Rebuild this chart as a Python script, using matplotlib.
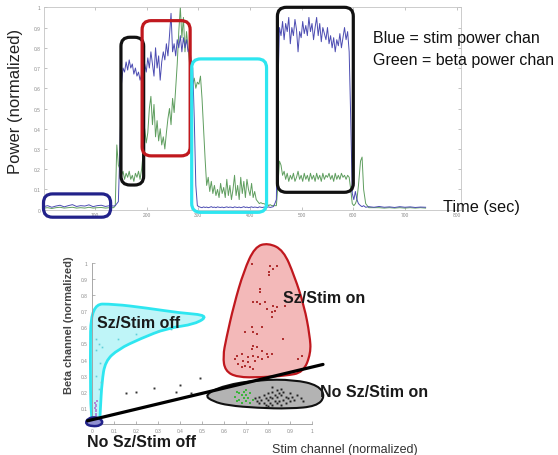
import matplotlib
matplotlib.use("Agg")
import matplotlib.pyplot as plt
from matplotlib.patches import FancyBboxPatch, PathPatch
from matplotlib.path import Path

plt.rcParams['font.family'] = ['Liberation Sans', 'DejaVu Sans']

# ---------------- top panel data (time in s, normalized power) ----------------
time_pre = [0, 8, 16, 24, 32, 40, 48, 56, 64, 72, 80, 88, 96, 104, 112, 120, 128, 136]
stim_pre = [0.015, 0.020, 0.012, 0.018, 0.022, 0.014, 0.020, 0.025, 0.016, 0.020,
            0.018, 0.024, 0.015, 0.020, 0.022, 0.016, 0.020, 0.018]
beta_pre = [0.008, 0.010, 0.006, 0.010, 0.012, 0.008, 0.010, 0.012, 0.008, 0.010,
            0.008, 0.012, 0.008, 0.010, 0.011, 0.008, 0.010, 0.010]

time_sz = [139, 142, 145, 148, 151, 154, 157, 160, 163, 166,
           169, 172, 175, 178, 181, 184, 187, 190, 193, 196,
           199, 202, 205, 208, 211, 214, 217, 220, 223, 226,
           229, 232, 235, 238, 241, 244, 247, 250, 253, 256,
           259, 262, 265, 268, 271, 274, 277, 280, 283, 286,
           289, 292, 295, 298]
stim_sz = [0.02, 0.03, 0.04, 0.30, 0.62, 0.70, 0.68, 0.73, 0.69, 0.74,
           0.70, 0.72, 0.67, 0.70, 0.66, 0.68, 0.64, 0.67, 0.62, 0.72,
           0.68, 0.75, 0.70, 0.78, 0.72, 0.66, 0.80, 0.70, 0.76, 0.64,
           0.73, 0.78, 0.74, 0.82, 0.76, 0.86, 0.97, 0.78, 0.82, 0.76,
           0.84, 0.80, 0.86, 0.78, 0.85, 0.80, 0.84, 0.78, 0.80, 0.74,
           0.70, 0.45, 0.12, 0.02]
beta_sz = [0.02, 0.32, 0.22, 0.20, 0.17, 0.19, 0.15, 0.18, 0.16, 0.19,
           0.15, 0.17, 0.14, 0.18, 0.16, 0.19, 0.15, 0.20, 0.28, 0.40,
           0.33, 0.38, 0.50, 0.56, 0.42, 0.52, 0.36, 0.44, 0.34, 0.40,
           0.32, 0.36, 0.30, 0.38, 0.45, 0.50, 0.42, 0.55, 0.48, 0.60,
           0.72, 0.88, 1.00, 0.85, 0.95, 0.78, 0.88, 0.80, 0.72, 0.66,
           0.62, 0.65, 0.60, 0.63]

time_off = [301, 304, 307, 310, 313, 316, 319, 322, 325, 328,
            331, 334, 337, 340, 343, 346, 349, 352, 355, 358,
            361, 364, 367, 370, 373, 376, 379, 382, 385, 388,
            391, 394, 397, 400, 403, 406, 409, 412, 415, 418,
            421, 424, 427, 430, 433, 436, 439, 442, 445, 448]
stim_off = [0.015, 0.012, 0.010, 0.014, 0.011, 0.013, 0.010, 0.012, 0.015, 0.011,
            0.013, 0.010, 0.014, 0.012, 0.011, 0.013, 0.010, 0.012, 0.014, 0.011,
            0.013, 0.012, 0.010, 0.014, 0.012, 0.011, 0.013, 0.010, 0.012, 0.015,
            0.011, 0.013, 0.010, 0.012, 0.014, 0.011, 0.013, 0.012, 0.010, 0.014,
            0.012, 0.011, 0.013, 0.010, 0.012, 0.014, 0.011, 0.013, 0.015, 0.030]
beta_off = [0.62, 0.66, 0.55, 0.40, 0.25, 0.12, 0.16, 0.09, 0.14, 0.08,
            0.12, 0.07, 0.10, 0.06, 0.13, 0.08, 0.11, 0.06, 0.15, 0.07,
            0.12, 0.05, 0.10, 0.17, 0.07, 0.12, 0.05, 0.16, 0.08, 0.14,
            0.06, 0.15, 0.10, 0.07, 0.13, 0.06, 0.09, 0.05, 0.04, 0.03,
            0.035, 0.03, 0.03, 0.025, 0.03, 0.02, 0.025, 0.02, 0.02, 0.02]

time_on = [451, 454, 457, 460, 463, 466, 469, 472, 475, 478,
           481, 484, 487, 490, 493, 496, 499, 502, 505, 508,
           511, 514, 517, 520, 523, 526, 529, 532, 535, 538,
           541, 544, 547, 550, 553, 556, 559, 562, 565, 568,
           571, 574, 577, 580, 583, 586, 589, 592, 595, 598]
stim_on = [0.05, 0.60, 0.90, 0.86, 0.93, 0.84, 0.92, 0.88, 0.95, 0.82,
           0.90, 0.86, 0.94, 0.89, 0.78, 0.88, 0.85, 0.93, 0.87, 0.91,
           0.86, 0.95, 0.88, 0.92, 0.84, 0.90, 0.95, 0.86, 0.92, 0.83,
           0.90, 0.87, 0.84, 0.90, 0.82, 0.86, 0.80, 0.85, 0.78, 0.84,
           0.81, 0.87, 0.80, 0.85, 0.90, 0.84, 0.88, 0.78, 0.45, 0.08]
beta_on = [0.02, 0.12, 0.24, 0.22, 0.17, 0.19, 0.15, 0.18, 0.14, 0.17,
           0.15, 0.18, 0.14, 0.16, 0.19, 0.15, 0.17, 0.14, 0.18, 0.15,
           0.17, 0.14, 0.18, 0.15, 0.17, 0.14, 0.18, 0.15, 0.17, 0.14,
           0.18, 0.15, 0.17, 0.16, 0.18, 0.15, 0.17, 0.14, 0.18, 0.15,
           0.17, 0.15, 0.18, 0.16, 0.17, 0.15, 0.17, 0.16, 0.10, 0.03]

time_post = [601, 604, 607, 610, 614, 617, 620, 624, 630, 640,
             650, 660, 670, 680, 690, 700, 710, 720, 730, 740]
stim_post = [0.05, 0.09, 0.05, 0.03, 0.02, 0.015, 0.02, 0.012, 0.015, 0.012,
             0.016, 0.012, 0.014, 0.011, 0.015, 0.012, 0.014, 0.011, 0.013, 0.012]
beta_post = [0.02, 0.03, 0.05, 0.12, 0.24, 0.26, 0.10, 0.03, 0.01, 0.01,
             0.01, 0.008, 0.01, 0.008, 0.01, 0.008, 0.01, 0.008, 0.01, 0.008]

time_s = time_pre + time_sz + time_off + time_on + time_post
stim_power = stim_pre + stim_sz + stim_off + stim_on + stim_post
beta_power = beta_pre + beta_sz + beta_off + beta_on + beta_post

top_xticks = [100, 200, 300, 400, 500, 600, 700, 800]
top_yticks = [0, 0.1, 0.2, 0.3, 0.4, 0.5, 0.6, 0.7, 0.8, 0.9, 1]
top_yticklabels = ['0', '0.1', '0.2', '0.3', '0.4', '0.5', '0.6', '0.7', '0.8', '0.9', '1']

# highlight boxes (time range, power range, colour)
box_t0 = [0, 150, 191, 287, 453]
box_t1 = [130, 194, 284, 432, 600]
box_v0 = [-0.037, 0.122, 0.266, -0.013, 0.086]
box_v1 = [0.078, 0.852, 0.934, 0.745, 1.0]
box_colors = ['#22228a', '#111111', '#c0181e', '#2ee6f0', '#111111']

# ---------------- bottom panel data ----------------
red_x = [0.726, 0.809, 0.839, 0.805, 0.805, 0.764, 0.764, 0.733, 0.748, 0.764,
         0.786, 0.794, 0.824, 0.839, 0.832, 0.817, 0.817, 0.771, 0.726, 0.733,
         0.748, 0.695, 0.870, 0.733, 0.748, 0.726, 0.771, 0.794, 0.658, 0.680,
         0.711, 0.733, 0.756, 0.802, 0.817, 0.650, 0.688, 0.711, 0.741, 0.771,
         0.680, 0.695, 0.718, 0.733, 0.953, 0.938, 0.877, 0.868, 0.823, 0.665]
red_y = [0.994, 0.983, 0.983, 0.944, 0.925, 0.838, 0.817, 0.756, 0.756, 0.745,
         0.756, 0.714, 0.735, 0.724, 0.703, 0.693, 0.662, 0.600, 0.600, 0.569,
         0.559, 0.569, 0.528, 0.486, 0.476, 0.465, 0.455, 0.435, 0.424, 0.435,
         0.414, 0.424, 0.414, 0.414, 0.435, 0.404, 0.393, 0.383, 0.393, 0.404,
         0.352, 0.362, 0.352, 0.342, 0.424, 0.404, 0.733, 0.528, 0.963, 0.372]

gray_x = [0.74, 0.75, 0.76, 0.76, 0.77, 0.78, 0.78, 0.79, 0.79, 0.80,
          0.80, 0.80, 0.81, 0.81, 0.82, 0.82, 0.82, 0.83, 0.83, 0.84,
          0.84, 0.84, 0.85, 0.85, 0.86, 0.86, 0.87, 0.87, 0.88, 0.88,
          0.89, 0.90, 0.90, 0.91, 0.92, 0.93, 0.95, 0.96, 0.82, 0.86]
gray_y = [0.16, 0.14, 0.17, 0.13, 0.15, 0.18, 0.13, 0.16, 0.12, 0.19,
          0.15, 0.11, 0.17, 0.13, 0.20, 0.16, 0.12, 0.18, 0.14, 0.21,
          0.17, 0.13, 0.19, 0.14, 0.18, 0.12, 0.20, 0.15, 0.17, 0.13,
          0.16, 0.19, 0.14, 0.17, 0.15, 0.18, 0.16, 0.14, 0.23, 0.22]

green_x = [0.65, 0.66, 0.67, 0.67, 0.68, 0.68, 0.69, 0.69, 0.70, 0.70,
           0.71, 0.72, 0.72, 0.73, 0.66, 0.70]
green_y = [0.17, 0.14, 0.19, 0.15, 0.18, 0.13, 0.16, 0.20, 0.14, 0.18,
           0.16, 0.19, 0.13, 0.15, 0.20, 0.21]

black_x = [0.155, 0.20, 0.28, 0.40, 0.49, 0.38, 0.45]
black_y = [0.19, 0.20, 0.225, 0.24, 0.285, 0.20, 0.19]

cyan_x = [0.02, 0.03, 0.045, 0.02, 0.035, 0.02, 0.03, 0.04, 0.12, 0.20, 0.30, 0.36, 0.08, 0.25]
cyan_y = [0.53, 0.50, 0.48, 0.46, 0.38, 0.30, 0.22, 0.26, 0.53, 0.56, 0.58, 0.59, 0.61, 0.62]

purple_x = [0.012, 0.016, 0.020, 0.014, 0.018, 0.022, 0.016, 0.020, 0.018, 0.015]
purple_y = [0.04, 0.06, 0.08, 0.10, 0.12, 0.14, 0.05, 0.09, 0.11, 0.13]

# decision line
line_x = [-0.02, 1.05]
line_y = [0.02, 0.37]

# hand-drawn region outlines (control points)
cyan_shape_x = [-0.005, -0.008, -0.005, 0.10, 0.25, 0.40, 0.53, 0.47, 0.34, 0.22, 0.12, 0.06, 0.045, 0.038, 0.035, 0.015]
cyan_shape_y = [0.02, 0.40, 0.745, 0.745, 0.72, 0.69, 0.675, 0.62, 0.595, 0.53, 0.465, 0.39, 0.26, 0.09, 0.01, 0.0]
red_shape_x = [0.80, 0.87, 0.92, 0.965, 0.99, 0.995, 0.96, 0.88, 0.77, 0.66, 0.605, 0.595, 0.61, 0.645, 0.69, 0.74]
red_shape_y = [1.125, 1.08, 0.92, 0.73, 0.55, 0.44, 0.32, 0.30, 0.29, 0.29, 0.33, 0.42, 0.53, 0.74, 0.95, 1.10]
gray_shape_x = [0.51, 0.60, 0.76, 0.92, 1.03, 1.06, 1.02, 0.90, 0.75, 0.62, 0.55]
gray_shape_y = [0.18, 0.24, 0.275, 0.275, 0.24, 0.17, 0.11, 0.095, 0.10, 0.115, 0.14]
navy_shape_x = [-0.03, -0.02, 0.02, 0.05, 0.04, 0.0]
navy_shape_y = [0.0, 0.035, 0.045, 0.02, -0.01, -0.015]

bot_ticks = [0, 0.1, 0.2, 0.3, 0.4, 0.5, 0.6, 0.7, 0.8, 0.9, 1]
bot_ticklabels = ['0', '0.1', '0.2', '0.3', '0.4', '0.5', '0.6', '0.7', '0.8', '0.9', '1']


def smooth_closed(xs, ys):
    pts = list(zip(xs, ys))
    n = len(pts)
    mids = [((pts[i][0] + pts[(i + 1) % n][0]) / 2, (pts[i][1] + pts[(i + 1) % n][1]) / 2) for i in range(n)]
    verts = [mids[-1]]
    codes = [Path.MOVETO]
    for i in range(n):
        verts += [pts[i], mids[i]]
        codes += [Path.CURVE3, Path.CURVE3]
    verts.append(mids[-1])
    codes.append(Path.CLOSEPOLY)
    return Path(verts, codes)


W, H = 558, 456
fig = plt.figure(figsize=(W / 100, H / 100), dpi=100)

# ---------------- top axes ----------------
ax1 = fig.add_axes([43.5 / W, 1 - 210.7 / H, (460.7 - 43.5) / W, 202.4 / H])
ax1.plot(time_s, beta_power, color='#5f9e5f', lw=0.7, zorder=2)
ax1.plot(time_s, stim_power, color='#4c4cb2', lw=0.7, zorder=3)
ax1.set_xlim(0, 808)
ax1.set_ylim(0, 1)
ax1.set_xticks(top_xticks)
ax1.set_xticklabels([str(t) for t in top_xticks])
ax1.set_yticks(top_yticks)
ax1.set_yticklabels(top_yticklabels)
ax1.tick_params(direction='in', length=2, width=0.5, color='#aaaaaa', labelsize=3.5,
                labelcolor='#8a8a8a', top=True, right=True, pad=2)
for s in ax1.spines.values():
    s.set_color('#c4c4c4')
    s.set_linewidth(0.6)

bb = ax1.get_window_extent()
xpp = bb.width / 808.0
ypp = bb.height / 1.0
aspect = xpp / ypp
r = 9 / xpp
for t0, t1, v0, v1, c in zip(box_t0, box_t1, box_v0, box_v1, box_colors):
    p = FancyBboxPatch((t0, v0), t1 - t0, v1 - v0,
                       boxstyle="round,pad=0,rounding_size=%f" % r,
                       mutation_aspect=aspect, fill=False, ec=c, lw=2.3,
                       clip_on=False, zorder=5)
    ax1.add_patch(p)

fig.text(16 / W, 1 - 101 / H, 'Power (normalized)', rotation=90, ha='center', va='center',
         fontsize=12, color='#222222')
fig.text(373 / W, 1 - 38.5 / H, 'Blue = stim power chan', ha='left', va='center',
         fontsize=11.5, color='#111111')
fig.text(373 / W, 1 - 60 / H, 'Green = beta power chan', ha='left', va='center',
         fontsize=11.5, color='#111111')
fig.text(443 / W, 1 - 208 / H, 'Time (sec)', ha='left', va='center',
         fontsize=11.7, color='#111111')

# ---------------- bottom axes ----------------
ax2 = fig.add_axes([92 / W, 1 - 425 / H, 220 / W, 161 / H])
ax2.set_xlim(0, 1)
ax2.set_ylim(0, 1)
ax2.set_xticks(bot_ticks)
ax2.set_xticklabels(bot_ticklabels)
ax2.set_yticks(bot_ticks[1:])
ax2.set_yticklabels(bot_ticklabels[1:])
ax2.tick_params(direction='in', length=2, width=0.5, color='#999999', labelsize=3.5,
                labelcolor='#8a8a8a', pad=3)
ax2.spines['top'].set_visible(False)
ax2.spines['right'].set_visible(False)
for s in ('left', 'bottom'):
    ax2.spines[s].set_color('#9a9a9a')
    ax2.spines[s].set_linewidth(0.6)

ax2.add_patch(PathPatch(smooth_closed(cyan_shape_x, cyan_shape_y), fc='#bff5f8', ec='#2ee6f0',
                        lw=2.0, clip_on=False, zorder=2))
ax2.add_patch(PathPatch(smooth_closed(red_shape_x, red_shape_y), fc='#f3b9b9', ec='#c0181e',
                        lw=1.6, clip_on=False, zorder=2))
ax2.add_patch(PathPatch(smooth_closed(gray_shape_x, gray_shape_y), fc='#b3b3b3', ec='#111111',
                        lw=1.5, clip_on=False, zorder=2))
ax2.add_patch(PathPatch(smooth_closed(navy_shape_x, navy_shape_y), fc='#9090d0', ec='#22228a',
                        lw=1.8, clip_on=False, zorder=4))

ax2.plot(cyan_x, cyan_y, 's', ms=1.2, mew=0, color='#5fcfd8', clip_on=False, zorder=3)
ax2.plot(red_x, red_y, 's', ms=1.5, mew=0, color='#b03030', clip_on=False, zorder=3)
ax2.plot(gray_x, gray_y, 's', ms=1.4, mew=0, color='#222222', clip_on=False, zorder=3)
ax2.plot(green_x, green_y, 's', ms=1.6, mew=0, color='#3cb43c', clip_on=False, zorder=3)
ax2.plot(black_x, black_y, 's', ms=1.4, mew=0, color='#333333', clip_on=False, zorder=3)
ax2.plot(purple_x, purple_y, 's', ms=2.0, mew=0, color='#b088d8', clip_on=False, zorder=3)
ax2.plot(line_x, line_y, color='#000000', lw=2.3, solid_capstyle='round', clip_on=False, zorder=4)

fig.text(97 / W, 1 - 323 / H, 'Sz/Stim off', ha='left', va='center', fontsize=11.5,
         fontweight='bold', color='#1a1a1a', zorder=6)
fig.text(87 / W, 1 - 443 / H, 'No Sz/Stim off', ha='left', va='center', fontsize=11.5,
         fontweight='bold', color='#1a1a1a')
fig.text(283 / W, 1 - 298.5 / H, 'Sz/Stim on', ha='left', va='center', fontsize=11.5,
         fontweight='bold', color='#1a1a1a', zorder=6)
fig.text(320 / W, 1 - 393 / H, 'No Sz/Stim on', ha='left', va='center', fontsize=11.5,
         fontweight='bold', color='#1a1a1a', zorder=6)
fig.text(69 / W, 1 - 325 / H, 'Beta channel (normalized)', rotation=90, ha='center', va='center',
         fontsize=7.9, fontweight='bold', color='#444444')
fig.text(272 / W, 1 - 450 / H, 'Stim channel (normalized)', ha='left', va='center',
         fontsize=9, color='#333333')

fig.savefig('out.png', dpi=100)
